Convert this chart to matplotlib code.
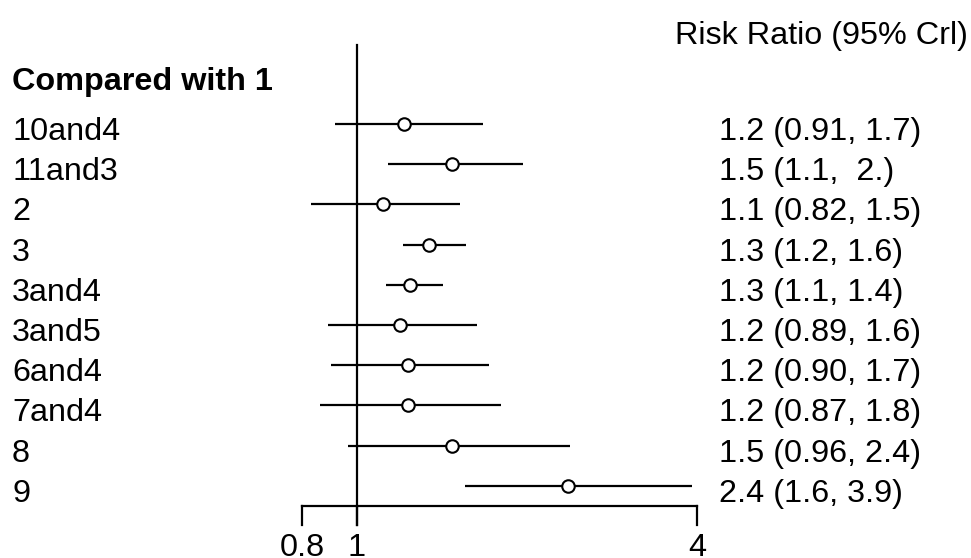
import matplotlib
matplotlib.use("Agg")
import matplotlib.pyplot as plt
import matplotlib.transforms as mtransforms
import numpy as np

plt.rcParams['font.family'] = ['Liberation Sans', 'DejaVu Sans']

treatments = ["10and4", "11and3", "2", "3", "3and4", "3and5", "6and4", "7and4", "8", "9"]
means = [1.21, 1.47, 1.11, 1.34, 1.24, 1.19, 1.23, 1.23, 1.47, 2.36]
lower = [0.914, 1.135, 0.83, 1.206, 1.125, 0.89, 0.90, 0.86, 0.964, 1.55]
upper = [1.67, 1.97, 1.52, 1.56, 1.42, 1.63, 1.71, 1.80, 2.38, 3.92]
ci_labels = ["1.2 (0.91, 1.7)", "1.5 (1.1,  2.)", "1.1 (0.82, 1.5)", "1.3 (1.2, 1.6)",
             "1.3 (1.1, 1.4)", "1.2 (0.89, 1.6)", "1.2 (0.90, 1.7)", "1.2 (0.87, 1.8)",
             "1.5 (0.96, 2.4)", "2.4 (1.6, 3.9)"]
tick_values = [0.8, 1, 4]
tick_labels = ["0.8", "1", "4"]
header = "Compared with 1"
title = "Risk Ratio (95% Crl)"

W, H = 971, 558
fig = plt.figure(figsize=(W / 100, H / 100), dpi=100)
ax = fig.add_axes([0, 0, 1, 1])
ax.set_xscale('log')
scale = 245.3
x0 = 357
ax.set_xlim(np.exp(-x0 / scale), np.exp((W - x0) / scale))
row0, step = 124, 40.2
ax.set_ylim((H - row0) / step, -row0 / step)
ax.axis('off')

def yrow(p):
    return (p - row0) / step

fs = 23.3
txt_off = 16 / step  # baseline offset below row centre
for i, (m, lo, hi) in enumerate(zip(means, lower, upper)):
    ax.plot([lo, hi], [i, i], color='black', lw=1.6, solid_capstyle='butt')
    ax.plot(m, i, marker='o', ms=9, mfc='white', mec='black', mew=1.5)

# reference line at 1
ax.plot([1, 1], [yrow(45), yrow(525)], color='black', lw=1.6)
# axis
ax.plot([tick_values[0], tick_values[-1]], [yrow(506), yrow(506)], color='black', lw=1.6)
for tv, tl in zip(tick_values, tick_labels):
    ax.plot([tv, tv], [yrow(506), yrow(525)], color='black', lw=1.6)
    ax.text(tv, yrow(556), tl, ha='center', va='baseline', fontsize=fs)

trans = mtransforms.blended_transform_factory(fig.transFigure, ax.transData)
for i, (t, c) in enumerate(zip(treatments, ci_labels)):
    ax.text(12 / W, i + txt_off, t, ha='left', va='baseline', fontsize=fs, transform=trans)
    ax.text(719 / W, i + txt_off, c, ha='left', va='baseline', fontsize=fs, transform=trans)

ax.text(12 / W, yrow(90), header, ha='left', va='baseline', fontsize=fs,
        fontweight='bold', transform=trans)
ax.text(968 / W, yrow(44), title, ha='right', va='baseline', fontsize=fs, transform=trans)

fig.savefig("out.png", dpi=100)
